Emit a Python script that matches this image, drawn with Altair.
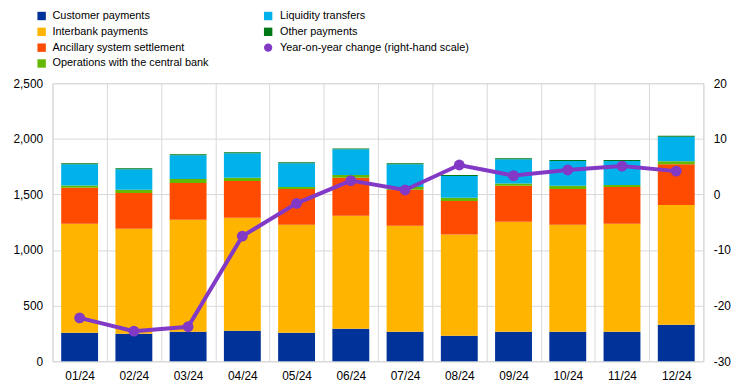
import altair as alt
import pandas as pd

months = ["01/24", "02/24", "03/24", "04/24", "05/24", "06/24",
          "07/24", "08/24", "09/24", "10/24", "11/24", "12/24"]
customer = [256, 247, 265, 273, 256, 291, 265, 229, 265, 265, 265, 327]
interbank = [981, 945, 1007, 1017, 972, 1017, 954, 910, 989, 963, 972, 1079]
ancillary = [324, 321, 330, 330, 321, 342, 324, 303, 324, 321, 330, 366]
operations = [20, 30, 36, 30, 18, 24, 24, 29, 21, 29, 17, 26]
liquidity = [191, 184, 214, 220, 214, 232, 205, 194, 217, 223, 217, 220]
other = [9, 9, 9, 9, 9, 8, 9, 9, 9, 9, 9, 9]
yoy = [-22.2, -24.6, -23.8, -7.5, -1.6, 2.5, 0.8, 5.3, 3.4, 4.4, 5.1, 4.2]

series_names = ["Customer payments", "Interbank payments", "Ancillary system settlement",
                "Operations with the central bank", "Liquidity transfers", "Other payments"]
series_values = [customer, interbank, ancillary, operations, liquidity, other]
series_colors = ["#003299", "#ffb400", "#ff4b00", "#65b800", "#00b1ea", "#007816"]
yoy_name = "Year-on-year change (right-hand scale)"
yoy_color = "#8139c6"

rows = []
for si, (name, vals) in enumerate(zip(series_names, series_values)):
    for m, v in zip(months, vals):
        rows.append({"month": m, "series": name, "value": v, "order": si})
bars_df = pd.DataFrame(rows)
yoy_df = pd.DataFrame({"month": months, "yoy": yoy})

W, H = 658, 281
FONT = "Liberation Sans"
LEGEND_FONT = "Liberation Sans Narrow, Arial Narrow, Liberation Sans"

xaxis = alt.Axis(title=None, tickBand="extent", grid=True, gridColor="#d9d9d9",
                 ticks=False, domainColor="#d9d9d9", labelAngle=0, labelPadding=9)
xscale = alt.Scale(domain=months, paddingInner=0, paddingOuter=0)

bars = alt.Chart(bars_df).mark_bar(width=alt.RelativeBandSize(0.68)).encode(
    x=alt.X("month:N", scale=xscale, axis=xaxis, sort=months),
    y=alt.Y("value:Q", stack="zero",
            scale=alt.Scale(domain=[0, 2500], nice=False),
            axis=alt.Axis(title=None, values=[0, 500, 1000, 1500, 2000, 2500], format=",.0f",
                          grid=True, gridColor="#d9d9d9", ticks=False, domain=False,
                          labelPadding=10)),
    color=alt.Color("series:N", scale=alt.Scale(domain=series_names, range=series_colors),
                    legend=None),
    order=alt.Order("order:Q", sort="ascending"),
)

yaxis_r = alt.Axis(title=None, orient="right", values=[-30, -20, -10, 0, 10, 20],
                   labelExpr="'' + datum.value", grid=False, ticks=False, domain=False,
                   labelPadding=10)
yscale_r = alt.Scale(domain=[-30, 20], nice=False)

line = alt.Chart(yoy_df).mark_line(color=yoy_color, strokeWidth=4).encode(
    x=alt.X("month:N", scale=xscale, axis=xaxis, sort=months),
    y=alt.Y("yoy:Q", scale=yscale_r, axis=yaxis_r),
)
points = alt.Chart(yoy_df).mark_circle(color=yoy_color, size=120, opacity=1).encode(
    x=alt.X("month:N", scale=xscale, axis=xaxis, sort=months),
    y=alt.Y("yoy:Q", scale=yscale_r, axis=yaxis_r),
)
yoy_layer = alt.layer(line, points)

# legend built from the series names/colours
legend_labels = series_names[:4] + series_names[4:] + [yoy_name]
legend_colors = series_colors[:4] + series_colors[4:] + [yoy_color]
legend_layers = []
for i, (lab, col) in enumerate(zip(legend_labels, legend_colors)):
    c, r = i // 4, i % 4
    ly = -68 + r * 16
    sx = -11 + c * 229
    tx = 0 + c * 230
    ldf = pd.DataFrame({"label": [lab]})
    if lab == yoy_name:
        sym = alt.Chart(ldf).mark_point(shape="circle", filled=True, size=70,
                                        color=col, opacity=1)
    else:
        sym = alt.Chart(ldf).mark_square(size=72, color=col, opacity=1)
    legend_layers.append(sym.encode(x=alt.value(sx), y=alt.value(ly)))
    legend_layers.append(
        alt.Chart(ldf).mark_text(align="left", baseline="middle", fontSize=11,
                                 font=LEGEND_FONT, color="#000000").encode(
            x=alt.value(tx), y=alt.value(ly), text="label:N"))

chart = alt.layer(bars, yoy_layer, *legend_layers).resolve_scale(
    y="independent"
).properties(
    width=W, height=H,
    autosize=alt.AutoSizeParams(type="none"),
    padding={"left": 45, "top": 74, "right": 34, "bottom": 27},
).configure_view(
    stroke="#d9d9d9"
).configure_axis(
    labelFont=FONT, labelFontSize=12, labelColor="#000000"
)

chart.save("out.html", embed_options={"renderer": "svg", "actions": False})
